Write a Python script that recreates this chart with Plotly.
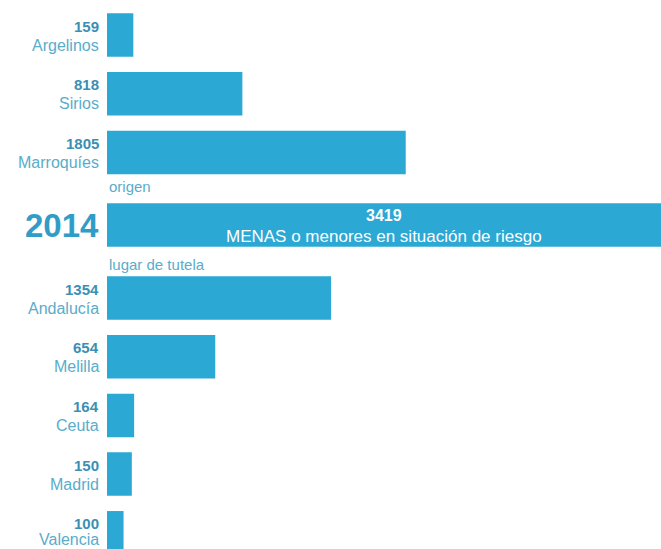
import plotly.graph_objects as go

# Origin nationalities and guardianship regions
origen_cats = ["Argelinos", "Sirios", "Marroquíes"]
origen_vals = [159, 818, 1805]
tutela_cats = ["Andalucía", "Melilla", "Ceuta", "Madrid", "Valencia"]
tutela_vals = [1354, 654, 164, 150, 100]
total_year = "2014"
total_val = 3419
total_label = "MENAS o menores en situación de riesgo"

W, H = 661, 549
BAR = "#2ba8d4"
NUM_C = "#3b8fb4"
NAME_C = "#5aaccb"
YEAR_C = "#2f9dc8"
FONT = "Liberation Sans, Arial, sans-serif"

# vertical layout (pixel units on a reversed y axis)
row_step = 58.7
origen_y = [35 + row_step * i for i in range(len(origen_cats))]
total_y = 225
tutela_y = [298 + row_step * i for i in range(len(tutela_cats))]
bar_h = 43.5

# horizontal scale: bars start at 107 px, 0.1655 px per unit
x0_px, px_per_unit = 107, 0.1655
x_range = [-x0_px / px_per_unit, (W - x0_px) / px_per_unit]

ys = origen_y + [total_y] + tutela_y
vals = origen_vals + [total_val] + tutela_vals

fig = go.Figure(go.Bar(
    x=vals, y=ys, orientation="h", width=bar_h,
    marker=dict(color=BAR, line=dict(width=0)),
    hoverinfo="skip",
))

ann = []
label_x = 101 / W
for cat, v, y in zip(origen_cats + tutela_cats, origen_vals + tutela_vals,
                     origen_y + tutela_y):
    ann.append(dict(x=label_x, xref="paper", y=y - 9, yref="y", text=f"<b>{v}</b>",
                    xanchor="right", yanchor="middle", showarrow=False,
                    font=dict(family=FONT, size=15, color=NUM_C)))
    ann.append(dict(x=label_x, xref="paper", y=min(y + 10, H - 10), yref="y", text=cat,
                    xanchor="right", yanchor="middle", showarrow=False,
                    font=dict(family=FONT, size=16, color=NAME_C)))

ann.append(dict(x=label_x, xref="paper", y=total_y, yref="y", text=f"<b>{total_year}</b>",
                xanchor="right", yanchor="middle", showarrow=False,
                font=dict(family=FONT, size=33, color=YEAR_C)))
center_x = (x0_px + W) / 2 / W
ann.append(dict(x=center_x, xref="paper", y=total_y - 10, yref="y", text=f"<b>{total_val}</b>",
                xanchor="center", yanchor="middle", showarrow=False,
                font=dict(family=FONT, size=16, color="white")))
ann.append(dict(x=center_x, xref="paper", y=total_y + 11, yref="y", text=total_label,
                xanchor="center", yanchor="middle", showarrow=False,
                font=dict(family=FONT, size=17, color="white")))
ann.append(dict(x=x0_px / W, xref="paper", y=186, yref="y", text="origen",
                xanchor="left", yanchor="middle", showarrow=False,
                font=dict(family=FONT, size=15, color=NAME_C)))
ann.append(dict(x=x0_px / W, xref="paper", y=264, yref="y", text="lugar de tutela",
                xanchor="left", yanchor="middle", showarrow=False,
                font=dict(family=FONT, size=15, color=NAME_C)))

fig.update_layout(
    width=W, height=H,
    margin=dict(l=0, r=0, t=0, b=0),
    paper_bgcolor="white", plot_bgcolor="white",
    xaxis=dict(range=x_range, visible=False, fixedrange=True),
    yaxis=dict(range=[H, 0], visible=False, fixedrange=True),
    showlegend=False,
    annotations=ann,
)

fig.write_html("out.html", config={"displayModeBar": False})
